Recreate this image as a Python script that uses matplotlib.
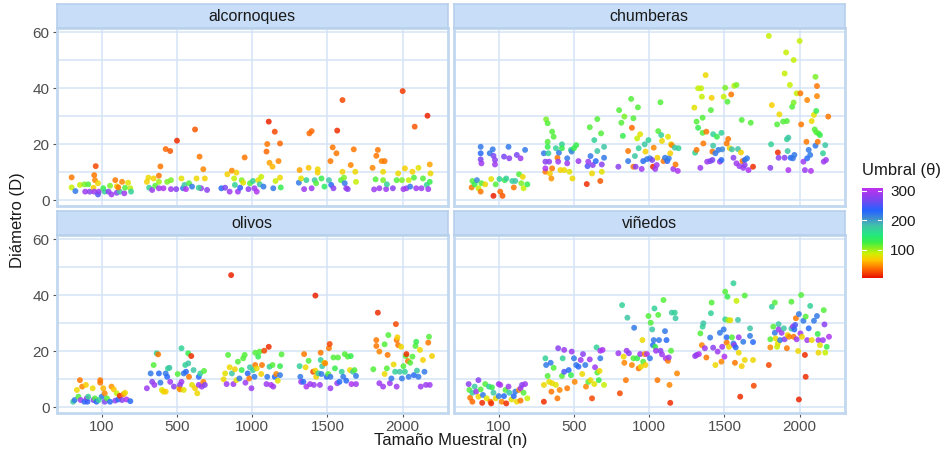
import numpy as np
import matplotlib
matplotlib.use("Agg")
import matplotlib.pyplot as plt
from matplotlib.colors import LinearSegmentedColormap, Normalize

plt.rcParams['font.family'] = ['Liberation Sans', 'DejaVu Sans']

tamanos = [100, 500, 1000, 1500, 2000]
cultivos = ['alcornoques', 'chumberas', 'olivos', 'viñedos']

# alcornoques: one sublist per sample size (jitter, diameter, threshold)
alc_jit = [
    [-0.40, -0.40, -0.35, -0.29, -0.23, -0.22, -0.18, -0.16, -0.11, -0.10, -0.09, -0.08, -0.10, -0.05, -0.05, -0.04, 0.02, 0.04, 0.09, 0.11, 0.13, 0.18, 0.20, 0.20, 0.24, 0.27, 0.30, 0.31, 0.35, 0.38, 0.39, 0.22],
    [-0.40, -0.38, -0.37, -0.33, -0.31, -0.29, -0.24, -0.24, -0.22, -0.24, -0.18, -0.15, -0.13, -0.09, -0.08, -0.08, 0.00, -0.01, 0.06, 0.08, 0.10, 0.12, 0.16, 0.20, 0.24, 0.26, 0.30, 0.32, 0.35, 0.37, 0.40, 0.29],
    [-0.41, -0.36, -0.33, -0.30, -0.27, -0.24, -0.23, -0.21, -0.19, -0.16, -0.14, -0.12, -0.10, -0.05, -0.03, 0.01, 0.03, 0.06, 0.08, 0.10, 0.12, 0.15, 0.19, 0.20, 0.22, 0.23, 0.27, 0.28, 0.30, 0.31, 0.35, 0.37, 0.37, 0.38],
    [-0.38, -0.37, -0.35, -0.31, -0.28, -0.25, -0.24, -0.21, -0.21, -0.17, -0.15, -0.13, -0.13, -0.08, -0.04, 0.02, 0.04, 0.05, 0.07, 0.08, 0.12, 0.13, 0.18, 0.20, 0.20, 0.22, 0.23, 0.25, 0.27, 0.31, 0.35, 0.37, 0.38],
    [-0.40, -0.38, -0.36, -0.35, -0.33, -0.31, -0.28, -0.26, -0.26, -0.24, -0.22, -0.21, -0.13, -0.08, -0.06, -0.01, 0.00, 0.01, 0.03, 0.05, 0.08, 0.10, 0.13, 0.15, 0.16, 0.18, 0.21, 0.25, 0.27, 0.32, 0.33, 0.34, 0.36, 0.37, 0.36],
]
alc_d = [
    [8.1, 4.5, 3.2, 5.4, 5.6, 3.0, 5.6, 3.0, 4.4, 8.9, 7.1, 12.1, 3.0, 2.0, 6.0, 3.0, 4.2, 3.0, 3.0, 5.1, 2.0, 7.1, 4.9, 2.6, 3.0, 6.5, 2.4, 4.4, 6.2, 4.2, 3.0, 4.5],
    [6.5, 8.0, 4.4, 3.6, 7.7, 5.1, 6.5, 8.7, 12.0, 4.2, 4.2, 18.2, 6.5, 17.5, 7.1, 3.9, 21.2, 3.9, 7.7, 4.2, 5.4, 3.9, 6.0, 4.8, 25.2, 7.7, 15.5, 4.2, 11.0, 7.7, 3.6, 4.4],
    [4.2, 4.4, 9.2, 3.0, 10.5, 7.7, 5.4, 9.8, 3.0, 4.4, 7.1, 6.2, 15.2, 3.9, 6.0, 6.8, 4.2, 3.0, 7.1, 5.6, 8.3, 4.8, 17.3, 20.0, 28.0, 13.3, 11.9, 4.2, 24.4, 6.8, 13.9, 20.2, 8.0, 4.5],
    [6.2, 10.7, 7.7, 3.9, 7.1, 11.5, 23.8, 24.6, 4.2, 7.1, 6.0, 11.0, 9.8, 7.7, 4.8, 7.1, 13.9, 5.4, 18.8, 4.2, 16.7, 24.8, 7.1, 35.7, 10.1, 8.0, 6.0, 4.2, 3.9, 12.5, 18.1, 10.1, 6.5],
    [11.5, 3.8, 7.4, 15.8, 17.9, 4.2, 13.9, 7.1, 10.1, 13.9, 3.9, 5.6, 4.2, 7.1, 9.5, 7.1, 38.9, 3.9, 11.3, 4.2, 7.1, 4.8, 10.1, 8.0, 26.2, 4.2, 11.5, 4.2, 7.7, 5.4, 30.1, 3.9, 12.7, 9.5, 6.5],
]
alc_u = [
    [40, 90, 220, 90, 110, 290, 120, 280, 70, 40, 45, 25, 290, 250, 75, 285, 130, 170, 280, 110, 290, 40, 70, 280, 180, 45, 290, 120, 80, 95, 170, 40],
    [70, 75, 170, 290, 70, 120, 100, 40, 40, 290, 300, 35, 110, 30, 110, 290, 15, 280, 80, 220, 180, 300, 120, 220, 30, 75, 40, 290, 45, 70, 280, 170],
    [230, 270, 70, 290, 45, 90, 170, 70, 290, 240, 110, 80, 40, 280, 120, 170, 290, 300, 80, 180, 90, 220, 35, 40, 12, 55, 60, 220, 25, 90, 45, 35, 75, 130],
    [220, 55, 80, 290, 170, 65, 35, 35, 290, 180, 120, 75, 70, 130, 140, 180, 40, 230, 40, 280, 40, 15, 120, 25, 70, 110, 220, 290, 280, 45, 40, 75, 90],
    [45, 290, 120, 40, 40, 290, 45, 110, 75, 40, 290, 170, 280, 120, 75, 110, 20, 290, 70, 290, 90, 220, 70, 120, 30, 290, 80, 290, 120, 170, 12, 290, 55, 75, 130],
]

# chumberas
chu_jit = [
    [-0.35, -0.36, -0.32, -0.29, -0.27, -0.24, -0.24, -0.24, -0.23, -0.23, -0.24, -0.18, -0.12, -0.10, -0.08, -0.07, -0.07, -0.05, -0.05, -0.04, 0.01, 0.02, 0.05, 0.07, 0.08, 0.10, 0.13, 0.14, 0.18, 0.20, 0.22, 0.24, 0.27, 0.29, 0.30, 0.32, 0.33, 0.35, 0.38],
    [-0.40, -0.38, -0.38, -0.38, -0.37, -0.35, -0.35, -0.35, -0.34, -0.33, -0.32, -0.30, -0.29, -0.29, -0.27, -0.24, -0.22, -0.21, -0.20, -0.18, -0.16, -0.16, -0.13, -0.09, -0.09, -0.06, -0.04, -0.03, -0.02, 0.00, 0.03, 0.06, 0.17, 0.18, 0.19, 0.21, 0.22, 0.24, 0.25, 0.27, 0.29, 0.31, 0.31, 0.35, 0.36, 0.37, 0.37, 0.40, 0.40],
    [-0.40, -0.41, -0.37, -0.35, -0.33, -0.28, -0.28, -0.24, -0.23, -0.21, -0.21, -0.19, -0.18, -0.16, -0.15, -0.14, -0.12, -0.10, -0.08, -0.06, -0.05, -0.03, -0.01, 0.01, 0.04, 0.05, 0.06, 0.08, 0.10, 0.11, 0.12, 0.15, 0.16, 0.17, 0.19, 0.21, 0.24, 0.25, 0.26, 0.28, 0.29, 0.30, 0.32, 0.34, 0.35, 0.38, 0.39],
    [-0.40, -0.39, -0.37, -0.37, -0.35, -0.35, -0.32, -0.31, -0.30, -0.29, -0.29, -0.28, -0.25, -0.24, -0.23, -0.19, -0.18, -0.17, -0.16, -0.16, -0.15, -0.15, -0.12, -0.10, -0.08, -0.06, -0.04, -0.04, -0.03, -0.01, 0.01, 0.03, 0.04, 0.05, 0.07, 0.09, 0.10, 0.12, 0.13, 0.16, 0.16, 0.18, 0.20, 0.22, 0.23, 0.24, 0.25, 0.27, 0.30, 0.32, 0.35, 0.38, 0.27],
    [-0.41, -0.39, -0.38, -0.37, -0.30, -0.29, -0.28, -0.27, -0.22, -0.20, -0.20, -0.18, -0.17, -0.17, -0.16, -0.15, -0.15, -0.13, -0.12, -0.10, -0.09, -0.08, -0.08, -0.07, -0.04, 0.00, 0.01, 0.02, 0.05, 0.07, 0.09, 0.10, 0.10, 0.12, 0.14, 0.15, 0.16, 0.19, 0.20, 0.21, 0.21, 0.22, 0.22, 0.23, 0.23, 0.24, 0.25, 0.27, 0.31, 0.32, 0.34, 0.35, 0.38],
]
chu_d = [
    [6.8, 4.5, 5.6, 7.1, 4.2, 19.0, 16.7, 14.5, 13.1, 6.0, 3.0, 5.6, 16.7, 7.5, 18.1, 15.8, 1.5, 14.3, 12.7, 5.6, 7.5, 3.0, 1.5, 15.5, 7.1, 7.7, 19.0, 14.9, 6.8, 4.5, 6.8, 16.1, 9.2, 14.9, 6.0, 8.3, 4.2, 17.9, 5.6],
    [16.7, 13.7, 10.1, 11.3, 28.8, 27.4, 20.8, 19.0, 16.7, 13.7, 9.5, 7.7, 11.3, 24.4, 22.6, 18.5, 15.1, 13.7, 16.9, 10.7, 19.9, 18.5, 10.7, 14.9, 13.1, 10.1, 17.9, 17.3, 7.7, 18.5, 19.6, 13.9, 5.7, 12.1, 13.7, 26.0, 15.7, 9.5, 12.5, 21.4, 13.9, 28.9, 17.5, 6.8, 23.8, 10.1, 12.7, 15.1, 19.0],
    [32.1, 11.9, 27.6, 22.9, 29.8, 13.9, 17.5, 36.1, 25.8, 29.2, 11.9, 15.7, 11.9, 22.0, 33.1, 18.5, 23.5, 11.1, 13.9, 19.9, 17.3, 14.6, 21.4, 14.9, 14.3, 11.9, 18.7, 11.1, 12.5, 15.1, 24.6, 34.9, 23.2, 21.1, 13.9, 15.1, 13.9, 22.6, 14.9, 16.7, 19.9, 19.6, 11.1, 18.7, 12.7, 10.4, 18.5],
    [33.0, 16.9, 17.9, 28.0, 25.8, 39.9, 11.5, 39.9, 36.9, 29.4, 24.0, 20.2, 44.6, 24.4, 13.7, 13.9, 32.1, 36.5, 14.3, 17.3, 23.5, 19.4, 16.7, 22.6, 17.9, 13.7, 24.0, 14.3, 18.1, 36.9, 40.1, 20.2, 35.1, 21.8, 18.5, 37.7, 18.1, 15.1, 40.8, 41.1, 13.1, 18.2, 12.1, 17.0, 28.6, 13.9, 11.5, 14.3, 14.9, 10.7, 27.6, 11.9, 12.5],
    [58.6, 11.5, 19.9, 33.9, 27.0, 17.0, 15.1, 30.6, 28.0, 45.2, 15.1, 52.7, 28.2, 21.7, 17.5, 22.3, 10.7, 41.1, 15.1, 33.3, 14.9, 50.0, 34.8, 16.1, 38.1, 56.8, 38.1, 27.0, 13.7, 10.7, 20.8, 35.7, 14.9, 17.9, 16.1, 10.4, 28.2, 30.4, 25.2, 44.0, 19.4, 24.2, 31.8, 40.7, 37.1, 20.8, 23.8, 23.2, 16.7, 13.7, 19.6, 14.3, 29.8],
]
chu_u = [
    [120, 40, 130, 210, 90, 220, 230, 270, 290, 120, 40, 75, 220, 80, 220, 270, 10, 280, 290, 120, 170, 35, 30, 270, 130, 170, 220, 280, 170, 40, 180, 270, 120, 290, 110, 75, 90, 220, 130],
    [220, 280, 40, 300, 110, 120, 120, 130, 170, 280, 70, 50, 40, 120, 120, 170, 40, 290, 220, 70, 170, 130, 75, 220, 290, 80, 170, 210, 75, 130, 130, 290, 15, 250, 290, 120, 220, 75, 280, 170, 230, 120, 180, 30, 120, 80, 280, 220, 180],
    [120, 280, 120, 130, 110, 220, 40, 120, 35, 120, 40, 180, 280, 90, 120, 170, 80, 290, 230, 180, 70, 220, 170, 220, 270, 15, 45, 290, 290, 70, 120, 120, 170, 75, 40, 220, 230, 80, 220, 70, 80, 45, 290, 180, 40, 300, 170],
    [80, 170, 40, 120, 130, 90, 290, 90, 90, 120, 120, 40, 75, 40, 290, 280, 120, 70, 270, 40, 170, 180, 220, 130, 220, 290, 170, 230, 210, 90, 110, 40, 120, 40, 70, 40, 180, 280, 95, 110, 290, 180, 290, 70, 120, 40, 290, 230, 220, 300, 120, 15, 280],
    [90, 280, 170, 70, 120, 15, 280, 75, 120, 90, 280, 90, 120, 170, 180, 180, 300, 90, 230, 120, 220, 90, 110, 220, 90, 90, 40, 40, 290, 290, 40, 45, 230, 220, 220, 300, 75, 80, 120, 110, 220, 120, 130, 40, 45, 40, 120, 130, 170, 290, 180, 290, 40],
]

# olivos
oli_jit = [
    [-0.38, -0.36, -0.33, -0.31, -0.29, -0.28, -0.26, -0.23, -0.21, -0.20, -0.19, -0.18, -0.12, -0.11, -0.09, -0.07, -0.02, -0.02, 0.00, 0.02, 0.04, 0.04, 0.07, 0.11, 0.13, 0.16, 0.18, 0.20, 0.22, 0.24, 0.27, 0.29, 0.31, 0.33, 0.38, -0.04],
    [-0.40, -0.35, -0.33, -0.31, -0.30, -0.27, -0.25, -0.24, -0.22, -0.20, -0.18, -0.15, -0.15, -0.13, -0.12, -0.10, -0.09, -0.04, 0.01, 0.03, 0.04, 0.04, 0.06, 0.06, 0.09, 0.09, 0.11, 0.12, 0.15, 0.15, 0.16, 0.19, 0.20, 0.22, 0.24, 0.27, 0.29, 0.29, 0.31, 0.33, 0.35, 0.36, 0.37],
    [-0.38, -0.36, -0.34, -0.32, -0.30, -0.28, -0.27, -0.25, -0.23, -0.21, -0.19, -0.17, -0.14, -0.12, -0.10, -0.09, -0.06, -0.04, -0.03, -0.01, 0.01, 0.03, 0.04, 0.04, 0.06, 0.08, 0.10, 0.12, 0.13, 0.16, 0.19, 0.20, 0.22, 0.23, 0.25, 0.27, 0.28, 0.30, 0.32, 0.34, 0.37, 0.37, 0.39],
    [-0.37, -0.36, -0.35, -0.32, -0.31, -0.29, -0.28, -0.25, -0.23, -0.19, -0.18, -0.16, -0.15, -0.12, -0.10, -0.09, -0.09, -0.08, -0.07, -0.04, -0.03, -0.01, 0.01, 0.02, 0.03, 0.04, 0.04, 0.08, 0.10, 0.13, 0.14, 0.16, 0.19, 0.21, 0.23, 0.25, 0.27, 0.30, 0.31, 0.32, 0.34, 0.36, 0.38, 0.38, -0.16],
    [-0.39, -0.35, -0.35, -0.33, -0.31, -0.31, -0.26, -0.24, -0.24, -0.21, -0.20, -0.19, -0.17, -0.15, -0.12, -0.10, -0.09, -0.08, -0.08, -0.07, -0.06, -0.04, -0.02, -0.01, 0.01, 0.03, 0.04, 0.05, 0.07, 0.08, 0.10, 0.13, 0.15, 0.17, 0.18, 0.19, 0.21, 0.23, 0.24, 0.27, 0.29, 0.31, 0.34, 0.35, 0.36, 0.39],
]
oli_d = [
    [1.9, 2.5, 6.1, 3.7, 9.6, 2.5, 7.3, 1.9, 7.9, 3.1, 1.9, 3.7, 6.7, 2.5, 3.1, 1.9, 9.6, 8.7, 3.7, 6.7, 4.9, 1.9, 3.1, 1.9, 7.3, 6.3, 2.3, 4.9, 2.7, 4.0, 2.5, 4.6, 5.1, 2.7, 2.1, 2.5],
    [6.7, 12.0, 9.0, 15.0, 7.9, 19.2, 18.8, 12.0, 8.7, 6.1, 5.5, 5.5, 12.0, 10.8, 13.8, 14.0, 9.0, 7.3, 11.8, 6.7, 7.9, 6.3, 9.0, 21.0, 12.0, 6.1, 15.0, 12.6, 15.6, 19.2, 10.8, 18.2, 7.9, 13.2, 6.7, 4.9, 10.8, 7.9, 12.0, 7.3, 9.0, 12.9, 7.9],
    [9.9, 12.0, 8.2, 18.6, 14.2, 47.1, 12.0, 8.2, 13.5, 9.6, 16.2, 10.2, 13.2, 17.4, 18.6, 8.7, 12.0, 10.2, 14.2, 6.7, 13.2, 10.8, 15.0, 19.4, 13.8, 18.0, 19.8, 11.8, 15.0, 20.1, 8.2, 10.8, 21.5, 14.4, 7.9, 15.0, 7.3, 10.8, 11.8, 9.4, 14.6, 11.4, 18.8],
    [14.6, 10.8, 9.0, 9.0, 18.9, 14.2, 7.3, 16.5, 8.2, 12.6, 7.9, 13.0, 10.8, 12.0, 7.9, 19.4, 16.8, 11.8, 14.6, 15.8, 15.6, 10.8, 11.8, 21.0, 22.5, 10.8, 6.7, 17.7, 13.8, 8.5, 17.7, 9.0, 12.6, 10.8, 18.9, 9.4, 18.0, 13.2, 18.2, 8.2, 12.6, 13.2, 8.2, 11.1, 39.8],
    [13.5, 23.9, 21.8, 33.7, 19.8, 8.5, 7.3, 11.8, 22.4, 13.8, 18.6, 25.7, 8.5, 10.2, 15.2, 12.6, 29.6, 23.9, 7.3, 24.9, 22.1, 12.6, 21.5, 10.2, 14.6, 12.6, 18.2, 18.9, 16.4, 10.8, 15.8, 18.0, 11.4, 21.8, 23.3, 13.0, 10.8, 20.4, 7.3, 16.8, 12.6, 7.9, 23.0, 25.1, 7.9, 18.2],
]
oli_u = [
    [180, 220, 75, 120, 40, 290, 45, 230, 70, 290, 240, 170, 75, 280, 120, 230, 40, 40, 220, 60, 45, 270, 120, 230, 50, 65, 280, 90, 230, 15, 280, 45, 75, 300, 230, 170],
    [290, 220, 280, 120, 290, 170, 40, 230, 220, 80, 75, 70, 220, 230, 170, 180, 290, 280, 120, 75, 280, 45, 290, 170, 220, 80, 170, 230, 180, 130, 40, 15, 80, 180, 70, 75, 230, 290, 170, 290, 45, 120, 280],
    [75, 80, 290, 120, 75, 12, 180, 290, 70, 80, 120, 220, 130, 120, 120, 290, 230, 40, 180, 290, 170, 220, 40, 120, 75, 130, 120, 70, 40, 25, 290, 220, 15, 170, 300, 120, 290, 230, 45, 80, 130, 220, 120],
    [170, 220, 290, 230, 40, 75, 300, 120, 290, 25, 290, 75, 70, 170, 290, 40, 170, 220, 180, 70, 45, 230, 120, 40, 25, 220, 290, 120, 130, 290, 120, 230, 170, 220, 120, 230, 120, 75, 130, 300, 180, 120, 290, 220, 12],
    [120, 40, 40, 15, 45, 290, 290, 75, 120, 120, 40, 120, 290, 220, 75, 170, 25, 40, 290, 70, 40, 180, 75, 220, 120, 170, 120, 15, 40, 220, 120, 120, 230, 120, 130, 180, 220, 75, 290, 70, 220, 290, 40, 120, 290, 70],
]

# viñedos
vin_jit = [
    [-0.40, -0.39, -0.38, -0.35, -0.35, -0.32, -0.30, -0.27, -0.27, -0.24, -0.22, -0.21, -0.18, -0.16, -0.13, -0.11, -0.10, -0.09, -0.07, -0.04, 0.00, 0.00, 0.02, 0.04, 0.07, 0.09, 0.10, 0.13, 0.14, 0.17, 0.20, 0.22, 0.24, 0.27, 0.29, 0.31, 0.33, 0.35, 0.38, 0.29],
    [-0.40, -0.40, -0.38, -0.37, -0.35, -0.33, -0.31, -0.30, -0.29, -0.27, -0.24, -0.22, -0.21, -0.19, -0.16, -0.15, -0.13, -0.13, -0.09, -0.07, -0.04, -0.03, 0.00, 0.01, 0.03, 0.06, 0.09, 0.11, 0.12, 0.15, 0.16, 0.19, 0.21, 0.22, 0.24, 0.27, 0.28, 0.30, 0.31, 0.33, 0.34, 0.35, 0.35, 0.38, 0.40],
    [-0.41, -0.39, -0.36, -0.34, -0.33, -0.31, -0.30, -0.29, -0.27, -0.23, -0.21, -0.20, -0.16, -0.14, -0.12, -0.11, -0.09, -0.08, -0.06, -0.05, -0.03, -0.01, 0.01, 0.02, 0.04, 0.05, 0.06, 0.07, 0.08, 0.09, 0.11, 0.12, 0.13, 0.15, 0.17, 0.19, 0.21, 0.22, 0.23, 0.25, 0.26, 0.27, 0.28, 0.29, 0.30, 0.34, 0.35, 0.37],
    [-0.39, -0.37, -0.34, -0.32, -0.30, -0.29, -0.28, -0.26, -0.24, -0.19, -0.18, -0.17, -0.15, -0.12, -0.09, -0.06, -0.04, -0.03, -0.01, 0.00, 0.01, 0.01, 0.03, 0.03, 0.04, 0.05, 0.06, 0.08, 0.10, 0.12, 0.12, 0.13, 0.14, 0.15, 0.16, 0.18, 0.19, 0.19, 0.21, 0.23, 0.25, 0.27, 0.27, 0.34, 0.34, 0.38, 0.38, 0.39],
    [-0.41, -0.39, -0.39, -0.37, -0.35, -0.33, -0.33, -0.32, -0.30, -0.29, -0.28, -0.28, -0.26, -0.24, -0.21, -0.20, -0.17, -0.16, -0.14, -0.11, -0.11, -0.09, -0.08, -0.07, -0.06, -0.05, -0.04, -0.02, -0.01, -0.01, 0.01, 0.02, 0.03, 0.05, 0.07, 0.08, 0.08, 0.10, 0.12, 0.14, 0.16, 0.19, 0.23, 0.24, 0.25, 0.25, 0.27, 0.31, 0.32, 0.33, 0.34, 0.36, 0.39],
]
vin_d = [
    [8.2, 6.1, 3.3, 1.9, 5.1, 7.3, 5.5, 9.6, 3.7, 6.3, 1.5, 4.3, 8.2, 3.1, 7.3, 1.9, 1.3, 7.0, 5.1, 3.1, 8.2, 3.9, 7.9, 1.9, 3.9, 6.1, 1.3, 7.3, 5.1, 2.7, 3.9, 5.5, 1.9, 6.1, 6.7, 7.9, 5.1, 8.2, 3.1, 2.3],
    [1.9, 7.9, 17.4, 15.0, 11.1, 9.0, 15.8, 5.5, 8.5, 14.0, 7.9, 3.1, 21.0, 6.1, 11.1, 17.4, 20.4, 12.6, 6.7, 13.2, 11.4, 19.8, 17.4, 9.0, 15.0, 14.4, 16.8, 11.8, 18.9, 15.0, 7.3, 9.0, 17.0, 9.6, 3.1, 8.2, 14.2, 21.3, 12.3, 9.6, 12.9, 20.1, 17.4, 20.4, 7.9],
    [19.2, 4.9, 36.4, 18.0, 15.8, 9.6, 20.1, 31.9, 19.2, 15.0, 17.4, 28.3, 17.4, 13.8, 18.9, 14.4, 23.9, 16.2, 18.9, 15.0, 18.9, 32.5, 17.4, 30.1, 27.7, 22.1, 23.9, 35.2, 21.5, 20.1, 9.6, 32.9, 23.9, 20.1, 18.8, 38.2, 27.1, 17.4, 23.9, 16.5, 17.7, 7.9, 1.5, 20.1, 33.7, 33.7, 31.7, 12.0],
    [18.2, 18.6, 18.9, 26.3, 22.1, 28.7, 29.9, 21.0, 17.7, 24.8, 33.5, 37.3, 21.2, 15.0, 19.8, 26.5, 16.2, 21.5, 27.7, 18.0, 41.2, 31.3, 24.9, 23.0, 39.4, 31.0, 21.5, 31.0, 24.9, 22.7, 44.2, 22.1, 15.8, 21.3, 37.9, 31.1, 19.4, 24.9, 3.7, 14.6, 23.3, 16.8, 39.8, 25.4, 28.1, 16.8, 23.2, 7.6],
    [15.0, 24.2, 21.3, 35.8, 28.7, 37.3, 26.5, 24.5, 21.5, 22.7, 29.6, 27.7, 23.9, 26.5, 28.1, 24.2, 21.0, 25.7, 25.1, 37.6, 28.0, 28.7, 25.1, 27.7, 29.3, 31.7, 24.2, 20.0, 33.2, 2.7, 26.3, 40.0, 25.1, 30.8, 18.6, 10.8, 32.3, 23.9, 28.1, 36.1, 23.9, 30.8, 32.5, 26.1, 19.4, 23.9, 22.1, 23.9, 34.6, 29.5, 19.4, 21.5, 25.1],
]
vin_u = [
    [280, 120, 40, 35, 170, 180, 290, 280, 75, 120, 15, 220, 120, 80, 170, 40, 15, 130, 180, 75, 290, 220, 300, 45, 230, 120, 15, 290, 180, 80, 230, 220, 75, 45, 290, 280, 120, 290, 90, 40],
    [15, 75, 170, 220, 120, 80, 220, 40, 75, 120, 80, 40, 280, 45, 120, 170, 290, 250, 40, 230, 130, 290, 220, 45, 220, 230, 290, 75, 280, 220, 45, 120, 290, 75, 25, 80, 290, 170, 120, 130, 75, 290, 220, 300, 90],
    [290, 25, 170, 75, 45, 40, 290, 180, 280, 45, 120, 220, 130, 40, 290, 75, 75, 120, 45, 70, 300, 120, 220, 120, 180, 230, 220, 170, 130, 290, 40, 120, 220, 280, 290, 120, 220, 300, 230, 40, 290, 45, 15, 120, 180, 170, 180, 45],
    [290, 280, 300, 120, 45, 170, 180, 290, 40, 220, 170, 120, 280, 75, 290, 220, 45, 290, 220, 300, 120, 170, 230, 40, 130, 100, 75, 80, 120, 220, 170, 290, 40, 230, 90, 180, 75, 290, 15, 70, 220, 75, 120, 220, 180, 75, 230, 25],
    [25, 120, 45, 170, 120, 120, 220, 75, 90, 80, 180, 290, 220, 290, 180, 280, 40, 75, 45, 120, 180, 290, 40, 230, 250, 40, 290, 75, 220, 12, 290, 120, 75, 220, 15, 15, 120, 290, 230, 170, 75, 220, 220, 130, 75, 290, 80, 290, 120, 280, 90, 130, 300],
]

datos = {
    'alcornoques': (alc_jit, alc_d, alc_u),
    'chumberas': (chu_jit, chu_d, chu_u),
    'olivos': (oli_jit, oli_d, oli_u),
    'viñedos': (vin_jit, vin_d, vin_u),
}

# rainbow scale, red at low thresholds up to violet
arcoiris = LinearSegmentedColormap.from_list('arcoiris', [
    (0.00, '#e81000'), (0.10, '#ff6a00'), (0.20, '#ffc800'), (0.27, '#d0f000'),
    (0.33, '#8cf020'), (0.40, '#38ee48'), (0.48, '#22e880'), (0.58, '#40c4a8'),
    (0.66, '#4090d0'), (0.75, '#2464ff'), (0.87, '#7a46f0'), (1.00, '#c030f0')])
norma = Normalize(vmin=5, vmax=310)

azul_borde = '#c2d8f0'
azul_rejilla = '#d4e4f5'
azul_tira = '#c8ddf7'
gris = '#4d4d4d'

W, H = 947, 454
fig = plt.figure(figsize=(W / 100, H / 100), dpi=100)
fig.patch.set_facecolor('white')

# panel boxes in pixels: (left, top, right, bottom)
paneles = {
    'alcornoques': (56.6, 27.8, 447.8, 206.2),
    'chumberas': (453.6, 27.8, 844.8, 206.2),
    'olivos': (56.6, 234.8, 447.8, 413.2),
    'viñedos': (453.6, 234.8, 844.8, 413.2),
}
alto_tira = 23.5

for i, nombre in enumerate(cultivos):
    l, t, r, b = paneles[nombre]
    ax = fig.add_axes([l / W, 1 - b / H, (r - l) / W, (b - t) / H])
    jit, dia, umb = datos[nombre]
    for k in range(len(tamanos)):
        xs = (k + 1) + np.array(jit[k])
        ax.scatter(xs, dia[k], c=umb[k], cmap=arcoiris, norm=norma,
                   s=18, alpha=0.85, linewidths=0, zorder=3)
    ax.set_xlim(0.4, 5.6)
    ax.set_ylim(-2.2, 61.5)
    ax.set_xticks(range(1, 6))
    ax.set_yticks([0, 20, 40, 60])
    ax.set_yticks([10, 30, 50], minor=True)
    ax.grid(True, which='both', color=azul_rejilla, linewidth=1.1, zorder=0)
    ax.set_axisbelow(True)
    for sp in ax.spines.values():
        sp.set_color(azul_borde)
        sp.set_linewidth(2)
    ax.tick_params(which='minor', length=0)
    ax.tick_params(which='major', length=3, color='#555555', width=0.8,
                   labelsize=11, labelcolor=gris, pad=2)
    if i >= 2:
        ax.set_xticklabels([str(n) for n in tamanos])
    else:
        ax.tick_params(axis='x', length=0, labelbottom=False)
    if i % 2 == 1:
        ax.tick_params(axis='y', length=0, labelleft=False)

    # facet strip
    st = fig.add_axes([l / W, 1 - t / H, (r - l) / W, alto_tira / H])
    st.set_facecolor(azul_tira)
    st.set_xticks([])
    st.set_yticks([])
    for sp in st.spines.values():
        sp.set_color('#b8cfeb')
        sp.set_linewidth(1.2)
    st.text(0.5, 0.48, nombre, ha='center', va='center', fontsize=11.5,
            color='#1a1a1a', transform=st.transAxes)

fig.text(451 / W, 1 - 440 / H, 'Tamaño Muestral (n)', ha='center', va='center',
         fontsize=12, color='#1a1a1a')
fig.text(18 / W, 1 - 220 / H, 'Diámetro (D)', ha='center', va='center',
         rotation=90, fontsize=12, color='#1a1a1a')

# colour bar
cax = fig.add_axes([862 / W, 1 - 278 / H, 20 / W, 90 / H])
grad = np.linspace(norma.vmin, norma.vmax, 256).reshape(-1, 1)
cax.imshow(grad, cmap=arcoiris, norm=norma, aspect='auto', origin='lower',
           extent=[0, 1, norma.vmin, norma.vmax])
for v in [100, 200, 300]:
    cax.plot([0, 0.2], [v, v], color='white', lw=0.8)
    cax.plot([0.8, 1], [v, v], color='white', lw=0.8)
cax.set_xlim(0, 1)
cax.set_ylim(norma.vmin, norma.vmax)
cax.set_xticks([])
cax.yaxis.tick_right()
cax.set_yticks([100, 200, 300])
cax.tick_params(axis='y', length=0, labelsize=11, labelcolor='#1a1a1a', pad=6)
for sp in cax.spines.values():
    sp.set_visible(False)
fig.text(862 / W, 1 - 171 / H, 'Umbral (θ)', ha='left', va='center',
         fontsize=12, color='#1a1a1a')

fig.savefig('out.png', dpi=100, facecolor='white')
